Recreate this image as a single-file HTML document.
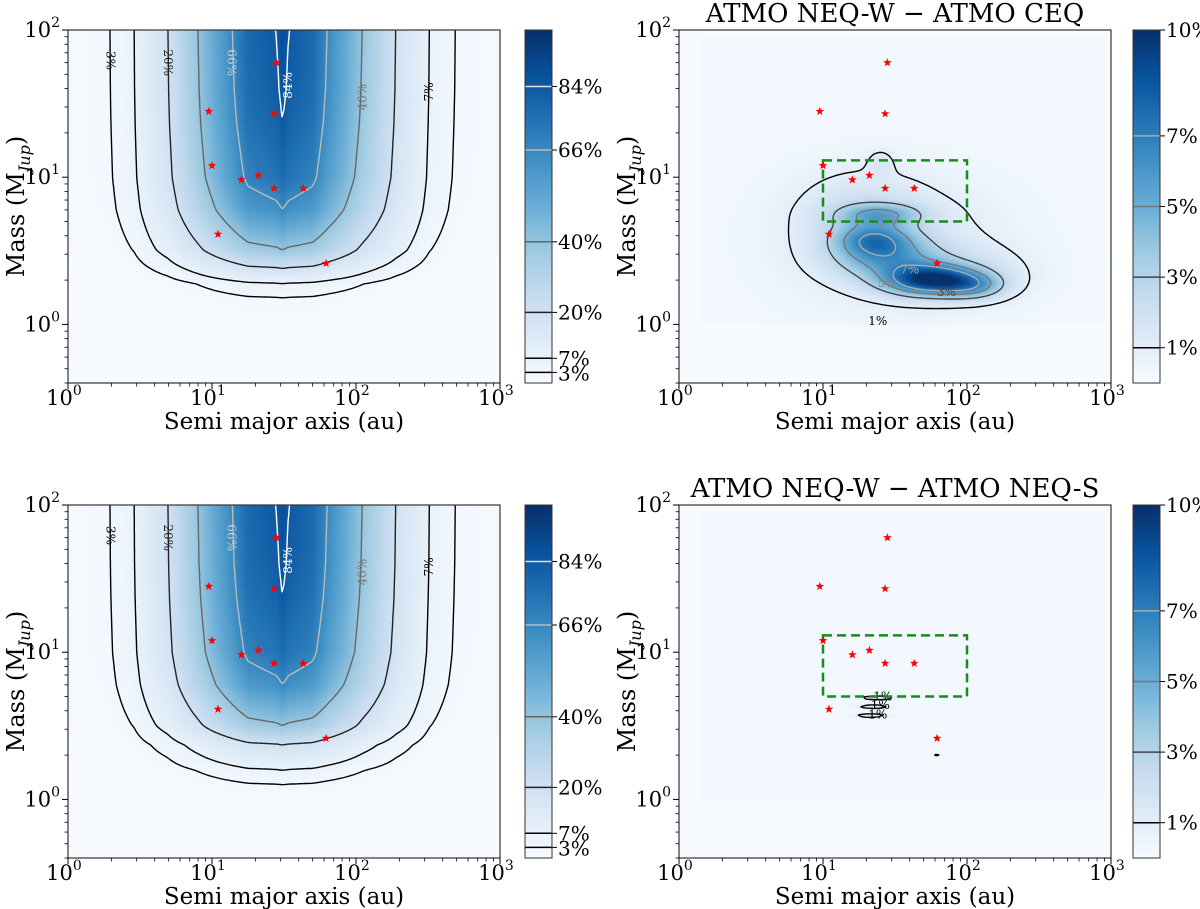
<!DOCTYPE html>
<html><head><meta charset="utf-8">
<style>
html,body{margin:0;padding:0;background:#fff;}
#wrap{position:relative;width:1200px;height:909px;overflow:hidden;}
canvas{position:absolute;}
svg{position:absolute;left:0;top:0;}
text{font-family:"DejaVu Serif","Liberation Serif",serif;}
</style></head>
<body>
<div id="wrap">
<canvas id="c0" width="432" height="353" style="left:68px;top:30px"></canvas>
<canvas id="c1" width="432" height="353" style="left:679px;top:30px"></canvas>
<canvas id="c2" width="432" height="353" style="left:68px;top:505px"></canvas>
<canvas id="c3" width="432" height="353" style="left:679px;top:505px"></canvas>
<canvas id="cb0" width="27" height="353" style="left:525px;top:30px"></canvas>
<canvas id="cb1" width="27" height="353" style="left:1133px;top:30px"></canvas>
<canvas id="cb2" width="27" height="353" style="left:525px;top:505px"></canvas>
<canvas id="cb3" width="27" height="353" style="left:1133px;top:505px"></canvas>
<svg id="s" width="1200" height="909"></svg>
</div>
<script>
// ---- data ----
const detLogA = [0, 0.289, 0.457, 0.69, 0.895, 1.13, 1.25, 1.45, 1.49, 1.53, 1.7, 1.81, 2.05, 2.28, 2.51, 2.69, 3];
const detFA   = [0.01, 0.03, 0.07, 0.2, 0.4, 0.66, 0.8, 0.86, 0.9, 0.86, 0.8, 0.66, 0.4, 0.2, 0.07, 0.03, 0.01];
const detLogM = [-0.4, 0, 0.18, 0.28, 0.38, 0.505, 0.78, 1.0, 1.37, 1.6, 2];
const detGTop = [0, 0.008, 0.033, 0.078, 0.222, 0.444, 0.733, 0.86, 0.933, 0.96, 0.98];
const detLogMBot = [-0.4, 0, 0.1, 0.2, 0.37, 0.5, 0.78, 1.0, 1.37, 1.6, 2];
const detGBot = [0, 0.012, 0.033, 0.078, 0.222, 0.444, 0.733, 0.86, 0.933, 0.96, 0.98];
const ceqA   = [1.5, 1.75, 1.35, 1.45, 1.4, 2.05, 1.25, 2.0, 1.4];
const ceqM   = [0.55, 0.3, 0.58, 0.45, 0.75, 0.26, 0.75, 0.35, 1.1];
const ceqAmp = [1.4, 8.0, 4.0, 3.5, 3.0, 3.0, 1.2, 1.3, 0.9];
const ceqSA  = [0.5, 0.22, 0.18, 0.25, 0.2, 0.15, 0.3, 0.3, 0.06];
const ceqSM  = [0.3, 0.07, 0.08, 0.1, 0.05, 0.06, 0.2, 0.12, 0.06];
const neqA   = [1.38, 1.35, 1.33, 1.79];
const neqM   = [0.69, 0.63, 0.57, 0.30];
const neqAmp = [1.25, 1.25, 1.25, 1.1];
const neqSA  = [0.11, 0.09, 0.09, 0.02];
const neqSM  = [0.012, 0.012, 0.012, 0.006];
const diffBackground = 0.25;
const starA = [28, 9.5, 27, 10, 16, 21, 27, 43, 11, 62];
const starM = [60, 28, 27, 12, 9.6, 10.3, 8.4, 8.4, 4.1, 2.6];
const detLevels = [3, 7, 20, 40, 66, 84];
const detLevelLabels = ['3%', '7%', '20%', '40%', '66%', '84%'];
const diffLevels = [1, 3, 5, 7];
const diffLevelLabels = ['1%', '3%', '5%', '7%'];
const xTickExp = [0, 1, 2, 3];
const yTickExp = [0, 1, 2];
const tlLabText = ['3%', '20%', '66%', '84%', '40%', '7%'];
const tlLabA = [1.95, 4.9, 13.5, 34, 112, 325];
const tlLabM = [62, 60, 60, 42, 35, 38];
const trLabText = ['5%', '7%', '5%', '3%', '1%'];
const trLabA = [28, 40, 28, 72, 24];
const trLabM = [5.0, 2.35, 1.9, 1.65, 1.05];
const brLabText = ['1%', '1%', '1%'];
const brLabA = [26, 25, 24];
const brLabM = [4.95, 4.35, 3.75];
const boxA = [10, 100];
const boxM = [5, 13];
</script>
<script>
const NS='http://www.w3.org/2000/svg';
const svg=document.getElementById('s');
const BLUES=[[247,251,255],[222,235,247],[198,219,239],[158,202,225],[107,174,214],[66,146,198],[33,113,181],[8,81,156],[8,48,107]];
function cmap(t){t=Math.max(0,Math.min(1,t));const s=t*8;const i=Math.min(7,Math.floor(s));const f=s-i;
 return BLUES[i].map((c,k)=>Math.round(c+(BLUES[i+1][k]-c)*f));}
function interp(xs,ys,x){if(x<=xs[0])return ys[0];for(let i=1;i<xs.length;i++){if(x<=xs[i]){const f=(x-xs[i-1])/(xs[i]-xs[i-1]);return ys[i-1]+f*(ys[i]-ys[i-1]);}}return ys[ys.length-1];}
const W=432,H=353,LMIN=Math.log10(0.4);
function mk(tag,attrs,parent){const e=document.createElementNS(NS,tag);for(const k in attrs)e.setAttribute(k,attrs[k]);(parent||svg).appendChild(e);return e;}
function blobs(A,M,Amp,SA,SM,la,lm){let v=0;for(let i=0;i<A.length;i++){const dx=(la-A[i])/SA[i],dy=(lm-M[i])/SM[i];v+=Amp[i]*Math.exp(-0.5*(dx*dx+dy*dy));}return v;}
function bg(la,lm){return (la>0.15&&la<2.95&&lm>0&&lm<1.95)?diffBackground:0;}
const panels=[
 {x0:68,y0:30,cb:525,vmax:100,name:'top-left',f:(la,lm)=>100*interp(detLogA,detFA,la)*interp(detLogM,detGTop,lm),
  lev:detLevels,levLab:detLevelLabels,levCol:['#000','#000','#222','#666','#bbb','#fff'],lab:[tlLabText,tlLabA,tlLabM],labRot:[90,90,90,-90,-90,-90],labCol:['#000','#222','#ccc','#fff','#777','#000']},
 {x0:679,y0:30,cb:1133,vmax:10,name:'top-right',title:'ATMO NEQ-W \u2212 ATMO CEQ',f:(la,lm)=>bg(la,lm)+blobs(ceqA,ceqM,ceqAmp,ceqSA,ceqSM,la,lm),
  lev:diffLevels,levLab:diffLevelLabels,levCol:['#000','#444','#777','#aaa'],lab:[trLabText,trLabA,trLabM],labRot:[0,0,0,0,0],labCol:['#888','#aaa','#888','#444','#000'],box:true},
 {x0:68,y0:505,cb:525,vmax:100,name:'bottom-left',f:(la,lm)=>100*interp(detLogA,detFA,la)*interp(detLogMBot,detGBot,lm),
  lev:detLevels,levLab:detLevelLabels,levCol:['#000','#000','#222','#666','#bbb','#fff'],lab:[tlLabText,tlLabA,tlLabM],labRot:[90,90,90,-90,-90,-90],labCol:['#000','#222','#ccc','#fff','#777','#000']},
 {x0:679,y0:505,cb:1133,vmax:10,name:'bottom-right',title:'ATMO NEQ-W \u2212 ATMO NEQ-S',f:(la,lm)=>bg(la,lm)+blobs(neqA,neqM,neqAmp,neqSA,neqSM,la,lm),
  lev:diffLevels,levLab:diffLevelLabels,levCol:['#000','#444','#777','#aaa'],lab:[brLabText,brLabA,brLabM],labRot:[0,0,0],labCol:['#000','#000','#000'],box:true}
];
panels.forEach((p,pi)=>{
 const xs=la=>p.x0+la/3*W, ys=lm=>p.y0+(2-lm)/(2-LMIN)*H;
 const pxToLa=px=>px/W*3, pyToLm=py=>2-py/H*(2-LMIN);
 const ctx=document.getElementById('c'+pi).getContext('2d');const img=ctx.createImageData(W,H);
 for(let y=0;y<H;y++){const lm=pyToLm(y+0.5);for(let x=0;x<W;x++){const v=p.f(pxToLa(x+0.5),lm);const c=cmap(v/p.vmax);const o=(y*W+x)*4;img.data[o]=c[0];img.data[o+1]=c[1];img.data[o+2]=c[2];img.data[o+3]=255;}}
 ctx.putImageData(img,0,0);
 const cctx=document.getElementById('cb'+pi).getContext('2d');
 for(let y=0;y<H;y++){const c=cmap(1-y/H);cctx.fillStyle='rgb('+c.join(',')+')';cctx.fillRect(0,y,27,1);}
 const g=mk('g',{});
 const st=2,nx=Math.ceil(W/st)+1,ny=Math.ceil(H/st)+1;const V=[];
 for(let j=0;j<ny;j++){const r=[];const lm=pyToLm(j*st);for(let i=0;i<nx;i++)r.push(p.f(pxToLa(i*st),lm));V.push(r);}
 p.lev.forEach((L,li)=>{let d='';
  for(let j=0;j<ny-1;j++)for(let i=0;i<nx-1;i++){
   const a=V[j][i],b=V[j][i+1],c=V[j+1][i+1],e=V[j+1][i];
   const pts=[];const X=i*st+p.x0,Y=j*st+p.y0;
   if((a<L)!==(b<L))pts.push([X+st*(L-a)/(b-a),Y]);
   if((b<L)!==(c<L))pts.push([X+st,Y+st*(L-b)/(c-b)]);
   if((e<L)!==(c<L))pts.push([X+st*(L-e)/(c-e),Y+st]);
   if((a<L)!==(e<L))pts.push([X,Y+st*(L-a)/(e-a)]);
   if(pts.length>=2)d+='M'+pts[0][0].toFixed(1)+' '+pts[0][1].toFixed(1)+'L'+pts[1][0].toFixed(1)+' '+pts[1][1].toFixed(1);
   if(pts.length===4)d+='M'+pts[2][0].toFixed(1)+' '+pts[2][1].toFixed(1)+'L'+pts[3][0].toFixed(1)+' '+pts[3][1].toFixed(1);
  }
  const path=mk('path',{d:d,fill:'none',stroke:p.levCol[li],'stroke-width':1.4},g);
  
  
  const cy=p.y0+H*(1-L/p.vmax);
  const ln=mk('line',{x1:p.cb,x2:p.cb+27,y1:cy,y2:cy,stroke:p.levCol[li]==='#fff'?'#ddd':p.levCol[li],'stroke-width':1.5},g);
  
  
  mk('line',{x1:p.cb+27,x2:p.cb+32,y1:cy,y2:cy,stroke:'#000','stroke-width':1},g);
  const tl=mk('text',{x:p.cb+33,y:cy+(p.vmax===100&&li===0?8:7),'font-size':20},g);tl.textContent=p.levLab[li];
  
  
 });
 if(p.vmax===10){const t=mk('text',{x:p.cb+33,y:p.y0+7,'font-size':20},g);t.textContent='10%';
  
  
  mk('line',{x1:p.cb+27,x2:p.cb+32,y1:p.y0,y2:p.y0,stroke:'#000','stroke-width':1},g);}
 const cbf=mk('rect',{x:p.cb,y:p.y0,width:27,height:H,fill:'none',stroke:'#333','stroke-width':1},g);
 
 
 p.lab[0].forEach((t,k)=>{const x=xs(Math.log10(p.lab[1][k])),y=ys(Math.log10(p.lab[2][k]));
  const tx=mk('text',{x:x,y:y,'font-size':12,fill:p.labCol[k],'text-anchor':'middle','dominant-baseline':'middle',transform:'rotate('+p.labRot[k]+' '+x+' '+y+')'},g);tx.textContent=t;
  
  });
 if(p.box){const bx=mk('rect',{x:xs(Math.log10(boxA[0])),y:ys(Math.log10(boxM[1])),width:xs(Math.log10(boxA[1]))-xs(Math.log10(boxA[0])),height:ys(Math.log10(boxM[0]))-ys(Math.log10(boxM[1])),fill:'none',stroke:'#1a8a1a','stroke-width':2.5,'stroke-dasharray':'9,5'},g);
  
  }
 starA.forEach((a,k)=>{const x=xs(Math.log10(a)),y=ys(Math.log10(starM[k]));const r=4.5,r2=1.9;let d='';
  for(let q=0;q<10;q++){const ang=-Math.PI/2+q*Math.PI/5;const rr=q%2?r2:r;d+=(q?'L':'M')+(x+rr*Math.cos(ang)).toFixed(1)+' '+(y+rr*Math.sin(ang)).toFixed(1);}
  const s=mk('path',{d:d+'Z',fill:'#f00'},g);
  
  });
 const fr=mk('rect',{x:p.x0,y:p.y0,width:W,height:H,fill:'none',stroke:'#333','stroke-width':1.2},g);
 
 
 for(let e=0;e<=3;e++){const x=xs(e);mk('line',{x1:x,x2:x,y1:p.y0+H,y2:p.y0+H+6,stroke:'#000'},g);
  if(e<3)for(let m=2;m<10;m++){const xm=xs(e+Math.log10(m));mk('line',{x1:xm,x2:xm,y1:p.y0+H,y2:p.y0+H+3.5,stroke:'#000','stroke-width':0.8},g);}}
 xTickExp.forEach(e=>{const t=mk('text',{x:xs(e)-4,y:p.y0+H+22,'font-size':21,'text-anchor':'middle'},g);
  t.innerHTML='10<tspan dy="-10" font-size="14">'+e+'</tspan>';
  
  });
 for(let e=-1;e<=2;e++){for(let m=1;m<10;m++){const lm=e+Math.log10(m);if(lm<LMIN-1e-9||lm>2+1e-9)continue;const y=ys(lm);const major=m===1;
  mk('line',{x1:p.x0-(major?6:3.5),x2:p.x0,y1:y,y2:y,stroke:'#000','stroke-width':major?1:0.8},g);}}
 yTickExp.forEach(e=>{const t=mk('text',{x:p.x0-8,y:ys(e)+7,'font-size':21,'text-anchor':'end'},g);
  t.innerHTML='10<tspan dy="-10" font-size="14">'+e+'</tspan>';
  
  });
 const xt=mk('text',{x:p.x0+W/2,y:p.y0+H+46,'font-size':23,'text-anchor':'middle'},g);xt.textContent='Semi major axis (au)';
 
 
 const yx=p.x0-44,yy=p.y0+H/2;
 const yt=mk('text',{x:yx,y:yy,'font-size':24,'text-anchor':'middle',transform:'rotate(-90 '+yx+' '+yy+')'},g);
 yt.innerHTML='Mass (M<tspan dy="6" font-size="16" font-style="italic">Jup</tspan><tspan dy="-6">)</tspan>';
 
 
 if(p.title){const tt=mk('text',{x:p.x0+W/2,y:p.y0-8,'font-size':26,'text-anchor':'middle'},g);tt.textContent=p.title;
  
  }
});
</script>
</body></html>
